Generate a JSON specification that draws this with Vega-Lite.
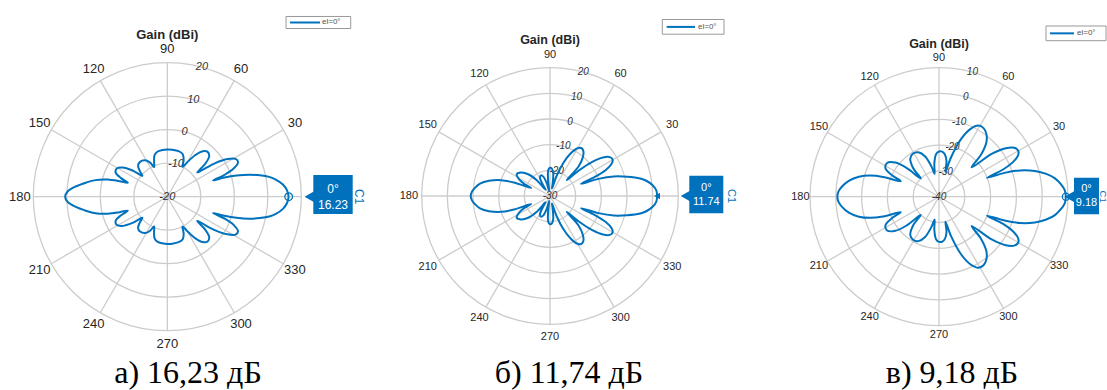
{
  "$schema": "https://vega.github.io/schema/vega-lite/v6.json",
  "padding": 0,
  "spacing": 0,
  "background": "white",
  "config": {
    "view": {"stroke": null},
    "font": "Liberation Sans"
  },
  "resolve": {"scale": {"x": "independent", "y": "independent", "size": "independent"}},
  "datasets": {
    "spokes": [
      {"ang": 0, "t": ""}, {"ang": 30, "t": "30"}, {"ang": 60, "t": "60"}, {"ang": 90, "t": "90"},
      {"ang": 120, "t": "120"}, {"ang": 150, "t": "150"}, {"ang": 180, "t": "180"}, {"ang": 210, "t": "210"},
      {"ang": 240, "t": "240"}, {"ang": 270, "t": "270"}, {"ang": 300, "t": "300"}, {"ang": 330, "t": "330"}
    ],
    "a": [
      {"ang": 0, "g": 16.23}, {"ang": 3, "g": 15.8}, {"ang": 6, "g": 14.7}, {"ang": 9, "g": 12.8}, {"ang": 11, "g": 11.0},
      {"ang": 13, "g": 8.4}, {"ang": 15, "g": 5.4}, {"ang": 17, "g": 1.6}, {"ang": 18.5, "g": -2}, {"ang": 19.5, "g": -5.5},
      {"ang": 21, "g": -1.5}, {"ang": 23, "g": 1.5}, {"ang": 26, "g": 3.5}, {"ang": 29, "g": 3.3}, {"ang": 32, "g": 1.2},
      {"ang": 35, "g": -2.5}, {"ang": 37.5, "g": -7}, {"ang": 39, "g": -8.5}, {"ang": 41, "g": -5}, {"ang": 44, "g": -2.6},
      {"ang": 48, "g": -2}, {"ang": 52, "g": -2.8}, {"ang": 56, "g": -5}, {"ang": 60, "g": -8.2}, {"ang": 63, "g": -10},
      {"ang": 66, "g": -8}, {"ang": 70, "g": -6.5}, {"ang": 76, "g": -6}, {"ang": 84, "g": -5.9}, {"ang": 90, "g": -5.9},
      {"ang": 96, "g": -6}, {"ang": 102, "g": -6.2}, {"ang": 107, "g": -7}, {"ang": 111, "g": -9}, {"ang": 114, "g": -10.3},
      {"ang": 117, "g": -8.5}, {"ang": 122, "g": -7.2}, {"ang": 128, "g": -6.8}, {"ang": 133, "g": -7.2}, {"ang": 137, "g": -8.8},
      {"ang": 140, "g": -10.3}, {"ang": 143, "g": -7}, {"ang": 147, "g": -4}, {"ang": 151, "g": -2.7}, {"ang": 155, "g": -3},
      {"ang": 158, "g": -5}, {"ang": 160.5, "g": -7.5}, {"ang": 162, "g": -5}, {"ang": 164, "g": -1.5}, {"ang": 167, "g": 2},
      {"ang": 170, "g": 4.5}, {"ang": 174, "g": 7.8}, {"ang": 177, "g": 9.8}, {"ang": 180, "g": 10.5},
      {"ang": 183, "g": 9.8}, {"ang": 186, "g": 7.8}, {"ang": 190, "g": 4.5}, {"ang": 193, "g": 2}, {"ang": 196, "g": -1.5},
      {"ang": 198, "g": -5}, {"ang": 199.5, "g": -7.5}, {"ang": 202, "g": -5}, {"ang": 205, "g": -3}, {"ang": 209, "g": -2.7},
      {"ang": 213, "g": -4}, {"ang": 217, "g": -7}, {"ang": 220, "g": -10.3}, {"ang": 223, "g": -8.8}, {"ang": 227, "g": -7.2},
      {"ang": 232, "g": -6.8}, {"ang": 238, "g": -7.2}, {"ang": 243, "g": -8.5}, {"ang": 246, "g": -10.3}, {"ang": 249, "g": -9},
      {"ang": 253, "g": -7}, {"ang": 258, "g": -6.2}, {"ang": 264, "g": -6}, {"ang": 270, "g": -5.9}, {"ang": 276, "g": -5.9},
      {"ang": 284, "g": -6}, {"ang": 290, "g": -6.5}, {"ang": 294, "g": -8}, {"ang": 297, "g": -10}, {"ang": 300, "g": -8.2},
      {"ang": 304, "g": -5}, {"ang": 308, "g": -2.8}, {"ang": 312, "g": -2}, {"ang": 316, "g": -2.6}, {"ang": 319, "g": -5},
      {"ang": 321, "g": -8.5}, {"ang": 322.5, "g": -7}, {"ang": 325, "g": -2.5}, {"ang": 328, "g": 1.2}, {"ang": 331, "g": 3.3},
      {"ang": 334, "g": 3.5}, {"ang": 337, "g": 1.5}, {"ang": 339, "g": -1.5}, {"ang": 340.5, "g": -5.5}, {"ang": 341.5, "g": -2},
      {"ang": 343, "g": 1.6}, {"ang": 345, "g": 5.4}, {"ang": 347, "g": 8.4}, {"ang": 349, "g": 11.0}, {"ang": 351, "g": 12.8},
      {"ang": 354, "g": 14.7}, {"ang": 357, "g": 15.8}, {"ang": 360, "g": 16.23}
    ],
    "b": [
      {"ang": 0, "g": 11.74}, {"ang": 3, "g": 11.5}, {"ang": 6, "g": 10.2}, {"ang": 9, "g": 8}, {"ang": 11, "g": 5.8},
      {"ang": 14, "g": 1}, {"ang": 17, "g": -4}, {"ang": 19.5, "g": -10}, {"ang": 21.5, "g": -17}, {"ang": 23, "g": -11},
      {"ang": 25, "g": -6}, {"ang": 27.5, "g": -3}, {"ang": 30, "g": -1.8}, {"ang": 33, "g": -2.2}, {"ang": 36, "g": -4.5},
      {"ang": 39, "g": -9}, {"ang": 41.5, "g": -15}, {"ang": 43.5, "g": -21}, {"ang": 46, "g": -14}, {"ang": 50, "g": -10},
      {"ang": 54, "g": -8}, {"ang": 57, "g": -7.7}, {"ang": 60, "g": -8.5}, {"ang": 64, "g": -11.5}, {"ang": 68, "g": -16},
      {"ang": 72, "g": -22}, {"ang": 75, "g": -27}, {"ang": 78, "g": -25}, {"ang": 82, "g": -21}, {"ang": 86, "g": -19.3},
      {"ang": 90, "g": -19}, {"ang": 94, "g": -20}, {"ang": 97, "g": -24}, {"ang": 100, "g": -28}, {"ang": 104, "g": -25},
      {"ang": 109, "g": -22}, {"ang": 114, "g": -21.2}, {"ang": 119, "g": -22}, {"ang": 123, "g": -25}, {"ang": 126, "g": -27},
      {"ang": 130, "g": -22}, {"ang": 135, "g": -18}, {"ang": 141, "g": -15.5}, {"ang": 147, "g": -14.5}, {"ang": 152, "g": -16.5},
      {"ang": 155, "g": -19}, {"ang": 157, "g": -22}, {"ang": 159.5, "g": -15}, {"ang": 162, "g": -10}, {"ang": 166, "g": -5.5},
      {"ang": 170, "g": -2.3}, {"ang": 174, "g": -0.5}, {"ang": 177, "g": 0.5}, {"ang": 180, "g": 0.9},
      {"ang": 183, "g": 0.5}, {"ang": 186, "g": -0.5}, {"ang": 190, "g": -2.3}, {"ang": 194, "g": -5.5}, {"ang": 198, "g": -10},
      {"ang": 200.5, "g": -15}, {"ang": 203, "g": -22}, {"ang": 205, "g": -19}, {"ang": 208, "g": -16.5}, {"ang": 213, "g": -14.5},
      {"ang": 219, "g": -15.5}, {"ang": 225, "g": -18}, {"ang": 230, "g": -22}, {"ang": 234, "g": -27}, {"ang": 237, "g": -25},
      {"ang": 241, "g": -22}, {"ang": 246, "g": -21.2}, {"ang": 251, "g": -22}, {"ang": 256, "g": -25}, {"ang": 260, "g": -28},
      {"ang": 263, "g": -24}, {"ang": 266, "g": -20}, {"ang": 270, "g": -19}, {"ang": 274, "g": -19.3}, {"ang": 278, "g": -21},
      {"ang": 282, "g": -25}, {"ang": 285, "g": -27}, {"ang": 288, "g": -22}, {"ang": 292, "g": -16}, {"ang": 296, "g": -11.5},
      {"ang": 300, "g": -8.5}, {"ang": 303, "g": -7.7}, {"ang": 306, "g": -8}, {"ang": 310, "g": -10}, {"ang": 314, "g": -14},
      {"ang": 316.5, "g": -21}, {"ang": 318.5, "g": -15}, {"ang": 321, "g": -9}, {"ang": 324, "g": -4.5}, {"ang": 327, "g": -2.2},
      {"ang": 330, "g": -1.8}, {"ang": 332.5, "g": -3}, {"ang": 335, "g": -6}, {"ang": 337, "g": -11}, {"ang": 338.5, "g": -17},
      {"ang": 340.5, "g": -10}, {"ang": 343, "g": -4}, {"ang": 346, "g": 1}, {"ang": 349, "g": 5.8}, {"ang": 351, "g": 8},
      {"ang": 354, "g": 10.2}, {"ang": 357, "g": 11.5}, {"ang": 360, "g": 11.74}
    ],
    "c": [
      {"ang": 0, "g": 9.18}, {"ang": 3, "g": 8.8}, {"ang": 6, "g": 7.4}, {"ang": 9, "g": 5.5}, {"ang": 12, "g": 2.5},
      {"ang": 15, "g": -1.5}, {"ang": 18, "g": -7}, {"ang": 20, "g": -13}, {"ang": 21.5, "g": -20}, {"ang": 23, "g": -13},
      {"ang": 25, "g": -8.5}, {"ang": 27.5, "g": -5.5}, {"ang": 30, "g": -4.5}, {"ang": 33, "g": -5.2}, {"ang": 36, "g": -8},
      {"ang": 39, "g": -13.5}, {"ang": 42, "g": -23}, {"ang": 45, "g": -17}, {"ang": 49, "g": -12}, {"ang": 53, "g": -9.5},
      {"ang": 57, "g": -8.3}, {"ang": 61, "g": -8.5}, {"ang": 65, "g": -11}, {"ang": 69, "g": -16}, {"ang": 73, "g": -24},
      {"ang": 75.5, "g": -30}, {"ang": 78, "g": -26}, {"ang": 82, "g": -23.5}, {"ang": 86, "g": -22.5}, {"ang": 90, "g": -22.5},
      {"ang": 94, "g": -23.5}, {"ang": 98, "g": -27}, {"ang": 101, "g": -31}, {"ang": 104, "g": -28}, {"ang": 109, "g": -23.5},
      {"ang": 115, "g": -21}, {"ang": 121, "g": -20.5}, {"ang": 127, "g": -21.5}, {"ang": 132, "g": -25}, {"ang": 135, "g": -30},
      {"ang": 138.5, "g": -23}, {"ang": 142, "g": -18.5}, {"ang": 147, "g": -16}, {"ang": 152, "g": -16.5}, {"ang": 155.5, "g": -20},
      {"ang": 158, "g": -24}, {"ang": 160.5, "g": -17}, {"ang": 163, "g": -12}, {"ang": 166, "g": -8}, {"ang": 170, "g": -4.5},
      {"ang": 174, "g": -2.2}, {"ang": 177, "g": -1}, {"ang": 180, "g": -0.6},
      {"ang": 183, "g": -1}, {"ang": 186, "g": -2.2}, {"ang": 190, "g": -4.5}, {"ang": 194, "g": -8}, {"ang": 197, "g": -12},
      {"ang": 199.5, "g": -17}, {"ang": 202, "g": -24}, {"ang": 204.5, "g": -20}, {"ang": 208, "g": -16.5}, {"ang": 213, "g": -16},
      {"ang": 218, "g": -18.5}, {"ang": 221.5, "g": -23}, {"ang": 225, "g": -30}, {"ang": 228, "g": -25}, {"ang": 233, "g": -21.5},
      {"ang": 239, "g": -20.5}, {"ang": 245, "g": -21}, {"ang": 251, "g": -23.5}, {"ang": 256, "g": -28}, {"ang": 259, "g": -31},
      {"ang": 262, "g": -27}, {"ang": 266, "g": -23.5}, {"ang": 270, "g": -22.5}, {"ang": 274, "g": -22.5}, {"ang": 278, "g": -23.5},
      {"ang": 282, "g": -26}, {"ang": 284.5, "g": -30}, {"ang": 287, "g": -24}, {"ang": 291, "g": -16}, {"ang": 295, "g": -11},
      {"ang": 299, "g": -8.5}, {"ang": 303, "g": -8.3}, {"ang": 307, "g": -9.5}, {"ang": 311, "g": -12}, {"ang": 315, "g": -17},
      {"ang": 318, "g": -23}, {"ang": 321, "g": -13.5}, {"ang": 324, "g": -8}, {"ang": 327, "g": -5.2}, {"ang": 330, "g": -4.5},
      {"ang": 332.5, "g": -5.5}, {"ang": 335, "g": -8.5}, {"ang": 337, "g": -13}, {"ang": 338.5, "g": -20}, {"ang": 340, "g": -13},
      {"ang": 342, "g": -7}, {"ang": 345, "g": -1.5}, {"ang": 348, "g": 2.5}, {"ang": 351, "g": 5.5}, {"ang": 354, "g": 7.4},
      {"ang": 357, "g": 8.8}, {"ang": 360, "g": 9.18}
    ]
  },
  "hconcat": [
    {
      "width": 370,
      "height": 390,
      "layer": [
        {
          "data": {"values": [{"g": -10}, {"g": 0}, {"g": 10}, {"g": 20}]},
          "transform": [
            {"calculate": "(datum.g + 20) / 40", "as": "r"},
            {"calculate": "0", "as": "o"}
          ],
          "mark": {"type": "point", "shape": "circle", "filled": false, "stroke": "#cccccc", "strokeWidth": 1.3, "opacity": 1},
          "encoding": {
            "x": {"field": "o", "type": "quantitative", "scale": {"domain": [-1.2485, 1.5127], "nice": false, "zero": false}, "axis": null},
            "y": {"field": "o", "type": "quantitative", "scale": {"domain": [-1.4425, 1.4679], "nice": false, "zero": false}, "axis": null},
            "size": {"field": "r", "type": "quantitative", "scale": {"type": "pow", "exponent": 2, "domain": [0, 1], "range": [0, 71824]}, "legend": null}
          }
        },
        {
          "data": {"name": "spokes"},
          "transform": [
            {"calculate": "cos(datum.ang * PI / 180)", "as": "cx"},
            {"calculate": "sin(datum.ang * PI / 180)", "as": "cy"},
            {"calculate": "0", "as": "o"}
          ],
          "mark": {"type": "rule", "stroke": "#cccccc", "strokeWidth": 1.3},
          "encoding": {
            "x": {"field": "o", "type": "quantitative", "axis": null},
            "y": {"field": "o", "type": "quantitative", "axis": null},
            "x2": {"field": "cx"},
            "y2": {"field": "cy"}
          }
        },
        {
          "data": {"name": "spokes"},
          "transform": [
            {"filter": "datum.t != ''"},
            {"calculate": "1.1 * cos(datum.ang * PI / 180)", "as": "lx"},
            {"calculate": "1.1 * sin(datum.ang * PI / 180)", "as": "ly"}
          ],
          "mark": {"type": "text", "fontSize": 13, "color": "#262626", "align": "center", "baseline": "middle"},
          "encoding": {
            "x": {"field": "lx", "type": "quantitative", "axis": null},
            "y": {"field": "ly", "type": "quantitative", "axis": null},
            "text": {"field": "t", "type": "nominal"}
          }
        },
        {
          "data": {"values": [{"g": -20}, {"g": -10}, {"g": 0}, {"g": 10}, {"g": 20}]},
          "transform": [
            {"calculate": "(datum.g + 20) / 40", "as": "r"},
            {"calculate": "datum.r * 0.2588", "as": "lx"},
            {"calculate": "datum.r * 0.9659", "as": "ly"}
          ],
          "mark": {"type": "text", "fontSize": 11, "fontStyle": "italic", "color": "#333333", "align": "center", "baseline": "middle"},
          "encoding": {
            "x": {"field": "lx", "type": "quantitative", "axis": null},
            "y": {"field": "ly", "type": "quantitative", "axis": null},
            "text": {"field": "g", "type": "nominal"}
          }
        },
        {
          "data": {"name": "a"},
          "transform": [
            {"calculate": "(datum.g + 20) / 40", "as": "r"},
            {"calculate": "datum.r * cos(datum.ang * PI / 180)", "as": "px"},
            {"calculate": "datum.r * sin(datum.ang * PI / 180)", "as": "py"}
          ],
          "mark": {"type": "line", "color": "#0072BD", "strokeWidth": 2, "interpolate": "catmull-rom"},
          "encoding": {
            "x": {"field": "px", "type": "quantitative", "axis": null},
            "y": {"field": "py", "type": "quantitative", "axis": null},
            "order": {"field": "ang", "type": "quantitative"}
          }
        },
        {
          "data": {"name": "a"},
          "transform": [
            {"filter": "datum.ang == 0"},
            {"calculate": "(datum.g + 20) / 40", "as": "r"},
            {"calculate": "0", "as": "o"}
          ],
          "mark": {"type": "point", "shape": "circle", "filled": false, "stroke": "#0072BD", "strokeWidth": 1.2, "size": 60, "opacity": 1},
          "encoding": {
            "x": {"field": "r", "type": "quantitative", "axis": null},
            "y": {"field": "o", "type": "quantitative", "axis": null}
          }
        },
        {
          "data": {"values": [{}]},
          "mark": {"type": "text", "text": "Gain (dBi)", "fontSize": 13, "fontWeight": "bold", "color": "#262626", "align": "center", "baseline": "middle"},
          "encoding": {"x": {"datum": 0, "type": "quantitative", "axis": null}, "y": {"datum": 1.2067, "type": "quantitative", "axis": null}}
        },
        {
          "data": {"values": [{}]},
          "mark": {"type": "rect", "fill": "white", "stroke": "#999999", "strokeWidth": 1},
          "encoding": {
            "x": {"datum": 0.886, "type": "quantitative", "axis": null}, "x2": {"datum": 1.3687},
            "y": {"datum": 1.345, "type": "quantitative", "axis": null}, "y2": {"datum": 1.255}
          }
        },
        {
          "data": {"values": [{}]},
          "mark": {"type": "rule", "stroke": "#0072BD", "strokeWidth": 2},
          "encoding": {
            "x": {"datum": 0.9157, "type": "quantitative", "axis": null}, "x2": {"datum": 1.1396},
            "y": {"datum": 1.3, "type": "quantitative", "axis": null}
          }
        },
        {
          "data": {"values": [{}]},
          "mark": {"type": "text", "text": "el=0°", "fontSize": 8, "color": "#555555", "align": "left", "baseline": "middle"},
          "encoding": {"x": {"datum": 1.1545, "type": "quantitative", "axis": null}, "y": {"datum": 1.3, "type": "quantitative", "axis": null}}
        },
        {
          "data": {"values": [{}]},
          "mark": {"type": "point", "shape": "triangle-left", "filled": true, "color": "#0072BD", "size": 160, "opacity": 1},
          "encoding": {"x": {"datum": 1.065, "type": "quantitative", "axis": null}, "y": {"datum": 0, "type": "quantitative", "axis": null}}
        },
        {
          "data": {"values": [{}]},
          "mark": {"type": "rect", "fill": "#0072BD"},
          "encoding": {
            "x": {"datum": 1.0896, "type": "quantitative", "axis": null}, "x2": {"datum": 1.3836},
            "y": {"datum": 0.162, "type": "quantitative", "axis": null}, "y2": {"datum": -0.13}
          }
        },
        {
          "data": {"values": [{}]},
          "mark": {"type": "text", "text": "0°", "fontSize": 12, "color": "white", "align": "center", "baseline": "middle"},
          "encoding": {"x": {"datum": 1.2366, "type": "quantitative", "axis": null}, "y": {"datum": 0.06, "type": "quantitative", "axis": null}}
        },
        {
          "data": {"name": "a"},
          "transform": [{"filter": "datum.ang == 0"}],
          "mark": {"type": "text", "fontSize": 12, "color": "white", "align": "center", "baseline": "middle"},
          "encoding": {
            "x": {"datum": 1.2366, "type": "quantitative", "axis": null},
            "y": {"datum": -0.065, "type": "quantitative", "axis": null},
            "text": {"field": "g", "type": "nominal"}
          }
        },
        {
          "data": {"values": [{}]},
          "mark": {"type": "text", "text": "C1", "fontSize": 12, "color": "#0072BD", "angle": 90, "align": "center", "baseline": "middle"},
          "encoding": {"x": {"datum": 1.4306, "type": "quantitative", "axis": null}, "y": {"datum": 0, "type": "quantitative", "axis": null}}
        },
        {
          "data": {"values": [{}]},
          "mark": {"type": "text", "text": "а) 16,23 дБ", "font": "Liberation Serif", "fontSize": 32, "color": "black", "align": "center", "baseline": "alphabetic"},
          "encoding": {"x": {"datum": 0.1545, "type": "quantitative", "axis": null}, "y": {"datum": -1.3903, "type": "quantitative", "axis": null}}
        }
      ]
    },
    {
      "width": 370,
      "height": 390,
      "layer": [
        {
          "data": {"values": [{"g": -20}, {"g": -10}, {"g": 0}, {"g": 10}, {"g": 20}]},
          "transform": [
            {"calculate": "(datum.g + 30) / 50", "as": "r"},
            {"calculate": "0", "as": "o"}
          ],
          "mark": {"type": "point", "shape": "circle", "filled": false, "stroke": "#cccccc", "strokeWidth": 1.3, "opacity": 1},
          "encoding": {
            "x": {"field": "o", "type": "quantitative", "scale": {"domain": [-1.403, 1.4809], "nice": false, "zero": false}, "axis": null},
            "y": {"field": "o", "type": "quantitative", "scale": {"domain": [-1.5121, 1.5277], "nice": false, "zero": false}, "axis": null},
            "size": {"field": "r", "type": "quantitative", "scale": {"type": "pow", "exponent": 2, "domain": [0, 1], "range": [0, 65843]}, "legend": null}
          }
        },
        {
          "data": {"name": "spokes"},
          "transform": [
            {"calculate": "cos(datum.ang * PI / 180)", "as": "cx"},
            {"calculate": "sin(datum.ang * PI / 180)", "as": "cy"},
            {"calculate": "0", "as": "o"}
          ],
          "mark": {"type": "rule", "stroke": "#cccccc", "strokeWidth": 1.3},
          "encoding": {
            "x": {"field": "o", "type": "quantitative", "axis": null},
            "y": {"field": "o", "type": "quantitative", "axis": null},
            "x2": {"field": "cx"},
            "y2": {"field": "cy"}
          }
        },
        {
          "data": {"name": "spokes"},
          "transform": [
            {"filter": "datum.t != ''"},
            {"calculate": "1.1 * cos(datum.ang * PI / 180)", "as": "lx"},
            {"calculate": "1.1 * sin(datum.ang * PI / 180)", "as": "ly"}
          ],
          "mark": {"type": "text", "fontSize": 11, "color": "#262626", "align": "center", "baseline": "middle"},
          "encoding": {
            "x": {"field": "lx", "type": "quantitative", "axis": null},
            "y": {"field": "ly", "type": "quantitative", "axis": null},
            "text": {"field": "t", "type": "nominal"}
          }
        },
        {
          "data": {"values": [{"g": -30}, {"g": -20}, {"g": -10}, {"g": 0}, {"g": 10}, {"g": 20}]},
          "transform": [
            {"calculate": "(datum.g + 30) / 50", "as": "r"},
            {"calculate": "datum.r * 0.2588", "as": "lx"},
            {"calculate": "datum.r * 0.9659", "as": "ly"}
          ],
          "mark": {"type": "text", "fontSize": 10, "fontStyle": "italic", "color": "#333333", "align": "center", "baseline": "middle"},
          "encoding": {
            "x": {"field": "lx", "type": "quantitative", "axis": null},
            "y": {"field": "ly", "type": "quantitative", "axis": null},
            "text": {"field": "g", "type": "nominal"}
          }
        },
        {
          "data": {"name": "b"},
          "transform": [
            {"calculate": "(datum.g + 30) / 50", "as": "r"},
            {"calculate": "datum.r * cos(datum.ang * PI / 180)", "as": "px"},
            {"calculate": "datum.r * sin(datum.ang * PI / 180)", "as": "py"}
          ],
          "mark": {"type": "line", "color": "#0072BD", "strokeWidth": 2, "interpolate": "catmull-rom"},
          "encoding": {
            "x": {"field": "px", "type": "quantitative", "axis": null},
            "y": {"field": "py", "type": "quantitative", "axis": null},
            "order": {"field": "ang", "type": "quantitative"}
          }
        },
        {
          "data": {"name": "b"},
          "transform": [
            {"filter": "datum.ang == 0"},
            {"calculate": "(datum.g + 30) / 50", "as": "r"},
            {"calculate": "0", "as": "o"}
          ],
          "mark": {"type": "point", "shape": "triangle-left", "filled": true, "color": "#0072BD", "size": 45, "opacity": 1},
          "encoding": {
            "x": {"field": "r", "type": "quantitative", "axis": null},
            "y": {"field": "o", "type": "quantitative", "axis": null}
          }
        },
        {
          "data": {"values": [{}]},
          "mark": {"type": "text", "text": "Gain (dBi)", "fontSize": 12.5, "fontWeight": "bold", "color": "#262626", "align": "center", "baseline": "middle"},
          "encoding": {"x": {"datum": 0, "type": "quantitative", "axis": null}, "y": {"datum": 1.2159, "type": "quantitative", "axis": null}}
        },
        {
          "data": {"values": [{}]},
          "mark": {"type": "rect", "fill": "white", "stroke": "#999999", "strokeWidth": 1},
          "encoding": {
            "x": {"datum": 0.8753, "type": "quantitative", "axis": null}, "x2": {"datum": 1.3562},
            "y": {"datum": 1.3757, "type": "quantitative", "axis": null}, "y2": {"datum": 1.2611}
          }
        },
        {
          "data": {"values": [{}]},
          "mark": {"type": "rule", "stroke": "#0072BD", "strokeWidth": 2},
          "encoding": {
            "x": {"datum": 0.9096, "type": "quantitative", "axis": null}, "x2": {"datum": 1.1302},
            "y": {"datum": 1.318, "type": "quantitative", "axis": null}
          }
        },
        {
          "data": {"values": [{}]},
          "mark": {"type": "text", "text": "el=0°", "fontSize": 8, "color": "#555555", "align": "left", "baseline": "middle"},
          "encoding": {"x": {"datum": 1.1535, "type": "quantitative", "axis": null}, "y": {"datum": 1.318, "type": "quantitative", "axis": null}}
        },
        {
          "data": {"values": [{}]},
          "mark": {"type": "point", "shape": "triangle-left", "filled": true, "color": "#0072BD", "size": 150, "opacity": 1},
          "encoding": {"x": {"datum": 1.06, "type": "quantitative", "axis": null}, "y": {"datum": 0, "type": "quantitative", "axis": null}}
        },
        {
          "data": {"values": [{}]},
          "mark": {"type": "rect", "fill": "#0072BD"},
          "encoding": {
            "x": {"datum": 1.0857, "type": "quantitative", "axis": null}, "x2": {"datum": 1.3507},
            "y": {"datum": 0.1582, "type": "quantitative", "axis": null}, "y2": {"datum": -0.1348}
          }
        },
        {
          "data": {"values": [{}]},
          "mark": {"type": "text", "text": "0°", "fontSize": 11, "color": "white", "align": "center", "baseline": "middle"},
          "encoding": {"x": {"datum": 1.2182, "type": "quantitative", "axis": null}, "y": {"datum": 0.06, "type": "quantitative", "axis": null}}
        },
        {
          "data": {"name": "b"},
          "transform": [{"filter": "datum.ang == 0"}],
          "mark": {"type": "text", "fontSize": 11, "color": "white", "align": "center", "baseline": "middle"},
          "encoding": {
            "x": {"datum": 1.2182, "type": "quantitative", "axis": null},
            "y": {"datum": -0.049, "type": "quantitative", "axis": null},
            "text": {"field": "g", "type": "nominal"}
          }
        },
        {
          "data": {"values": [{}]},
          "mark": {"type": "text", "text": "C1", "fontSize": 11, "color": "#0072BD", "angle": 90, "align": "center", "baseline": "middle"},
          "encoding": {"x": {"datum": 1.4108, "type": "quantitative", "axis": null}, "y": {"datum": 0, "type": "quantitative", "axis": null}}
        },
        {
          "data": {"values": [{}]},
          "mark": {"type": "text", "text": "б) 11,74 дБ", "font": "Liberation Serif", "fontSize": 32, "color": "black", "align": "center", "baseline": "alphabetic"},
          "encoding": {"x": {"datum": 0.148, "type": "quantitative", "axis": null}, "y": {"datum": -1.4575, "type": "quantitative", "axis": null}}
        }
      ]
    },
    {
      "width": 367,
      "height": 390,
      "layer": [
        {
          "data": {"values": [{"g": -30}, {"g": -20}, {"g": -10}, {"g": 0}, {"g": 10}]},
          "transform": [
            {"calculate": "(datum.g + 40) / 50", "as": "r"},
            {"calculate": "0", "as": "o"}
          ],
          "mark": {"type": "point", "shape": "circle", "filled": false, "stroke": "#cccccc", "strokeWidth": 1.3, "opacity": 1},
          "encoding": {
            "x": {"field": "o", "type": "quantitative", "scale": {"domain": [-1.5426, 1.3023], "nice": false, "zero": false}, "axis": null},
            "y": {"field": "o", "type": "quantitative", "scale": {"domain": [-1.4984, 1.5248], "nice": false, "zero": false}, "axis": null},
            "size": {"field": "r", "type": "quantitative", "scale": {"type": "pow", "exponent": 2, "domain": [0, 1], "range": [0, 66564]}, "legend": null}
          }
        },
        {
          "data": {"name": "spokes"},
          "transform": [
            {"calculate": "cos(datum.ang * PI / 180)", "as": "cx"},
            {"calculate": "sin(datum.ang * PI / 180)", "as": "cy"},
            {"calculate": "0", "as": "o"}
          ],
          "mark": {"type": "rule", "stroke": "#cccccc", "strokeWidth": 1.3},
          "encoding": {
            "x": {"field": "o", "type": "quantitative", "axis": null},
            "y": {"field": "o", "type": "quantitative", "axis": null},
            "x2": {"field": "cx"},
            "y2": {"field": "cy"}
          }
        },
        {
          "data": {"name": "spokes"},
          "transform": [
            {"filter": "datum.t != ''"},
            {"calculate": "1.075 * cos(datum.ang * PI / 180)", "as": "lx"},
            {"calculate": "1.075 * sin(datum.ang * PI / 180)", "as": "ly"}
          ],
          "mark": {"type": "text", "fontSize": 11, "color": "#262626", "align": "center", "baseline": "middle"},
          "encoding": {
            "x": {"field": "lx", "type": "quantitative", "axis": null},
            "y": {"field": "ly", "type": "quantitative", "axis": null},
            "text": {"field": "t", "type": "nominal"}
          }
        },
        {
          "data": {"values": [{"g": -40}, {"g": -30}, {"g": -20}, {"g": -10}, {"g": 0}, {"g": 10}]},
          "transform": [
            {"calculate": "(datum.g + 40) / 50", "as": "r"},
            {"calculate": "datum.r * 0.2588", "as": "lx"},
            {"calculate": "datum.r * 0.9659", "as": "ly"}
          ],
          "mark": {"type": "text", "fontSize": 10, "fontStyle": "italic", "color": "#333333", "align": "center", "baseline": "middle"},
          "encoding": {
            "x": {"field": "lx", "type": "quantitative", "axis": null},
            "y": {"field": "ly", "type": "quantitative", "axis": null},
            "text": {"field": "g", "type": "nominal"}
          }
        },
        {
          "data": {"name": "c"},
          "transform": [
            {"calculate": "(datum.g + 40) / 50", "as": "r"},
            {"calculate": "datum.r * cos(datum.ang * PI / 180)", "as": "px"},
            {"calculate": "datum.r * sin(datum.ang * PI / 180)", "as": "py"}
          ],
          "mark": {"type": "line", "color": "#0072BD", "strokeWidth": 2, "interpolate": "catmull-rom"},
          "encoding": {
            "x": {"field": "px", "type": "quantitative", "axis": null},
            "y": {"field": "py", "type": "quantitative", "axis": null},
            "order": {"field": "ang", "type": "quantitative"}
          }
        },
        {
          "data": {"name": "c"},
          "transform": [
            {"filter": "datum.ang == 0"},
            {"calculate": "(datum.g + 40) / 50", "as": "r"},
            {"calculate": "0", "as": "o"}
          ],
          "mark": {"type": "point", "shape": "circle", "filled": false, "stroke": "#0072BD", "strokeWidth": 1.2, "size": 50, "opacity": 1},
          "encoding": {
            "x": {"field": "r", "type": "quantitative", "axis": null},
            "y": {"field": "o", "type": "quantitative", "axis": null}
          }
        },
        {
          "data": {"values": [{}]},
          "mark": {"type": "text", "text": "Gain (dBi)", "fontSize": 12.5, "fontWeight": "bold", "color": "#262626", "align": "center", "baseline": "middle"},
          "encoding": {"x": {"datum": 0, "type": "quantitative", "axis": null}, "y": {"datum": 1.1837, "type": "quantitative", "axis": null}}
        },
        {
          "data": {"values": [{}]},
          "mark": {"type": "rect", "fill": "white", "stroke": "#999999", "strokeWidth": 1},
          "encoding": {
            "x": {"datum": 0.8295, "type": "quantitative", "axis": null}, "x2": {"datum": 1.2946},
            "y": {"datum": 1.3233, "type": "quantitative", "axis": null}, "y2": {"datum": 1.2093}
          }
        },
        {
          "data": {"values": [{}]},
          "mark": {"type": "rule", "stroke": "#0072BD", "strokeWidth": 2},
          "encoding": {
            "x": {"datum": 0.8605, "type": "quantitative", "axis": null}, "x2": {"datum": 1.0465},
            "y": {"datum": 1.2663, "type": "quantitative", "axis": null}
          }
        },
        {
          "data": {"values": [{}]},
          "mark": {"type": "text", "text": "el=0°", "fontSize": 8, "color": "#555555", "align": "left", "baseline": "middle"},
          "encoding": {"x": {"datum": 1.0698, "type": "quantitative", "axis": null}, "y": {"datum": 1.2663, "type": "quantitative", "axis": null}}
        },
        {
          "data": {"values": [{}]},
          "mark": {"type": "point", "shape": "triangle-left", "filled": true, "color": "#0072BD", "size": 150, "opacity": 1},
          "encoding": {"x": {"datum": 1.0155, "type": "quantitative", "axis": null}, "y": {"datum": 0, "type": "quantitative", "axis": null}}
        },
        {
          "data": {"values": [{}]},
          "mark": {"type": "rect", "fill": "#0072BD"},
          "encoding": {
            "x": {"datum": 1.0465, "type": "quantitative", "axis": null}, "x2": {"datum": 1.2403},
            "y": {"datum": 0.1473, "type": "quantitative", "axis": null}, "y2": {"datum": -0.1364}
          }
        },
        {
          "data": {"values": [{}]},
          "mark": {"type": "text", "text": "0°", "fontSize": 11, "color": "white", "align": "center", "baseline": "middle"},
          "encoding": {"x": {"datum": 1.1434, "type": "quantitative", "axis": null}, "y": {"datum": 0.0574, "type": "quantitative", "axis": null}}
        },
        {
          "data": {"name": "c"},
          "transform": [{"filter": "datum.ang == 0"}],
          "mark": {"type": "text", "fontSize": 11, "color": "white", "align": "center", "baseline": "middle"},
          "encoding": {
            "x": {"datum": 1.1434, "type": "quantitative", "axis": null},
            "y": {"datum": -0.0512, "type": "quantitative", "axis": null},
            "text": {"field": "g", "type": "nominal"}
          }
        },
        {
          "data": {"values": [{}]},
          "mark": {"type": "text", "text": "C1", "fontSize": 9.5, "color": "#0072BD", "angle": 90, "align": "center", "baseline": "middle"},
          "encoding": {"x": {"datum": 1.2713, "type": "quantitative", "axis": null}, "y": {"datum": 0, "type": "quantitative", "axis": null}}
        },
        {
          "data": {"values": [{}]},
          "mark": {"type": "text", "text": "в) 9,18 дБ", "font": "Liberation Serif", "fontSize": 32, "color": "black", "align": "center", "baseline": "alphabetic"},
          "encoding": {"x": {"datum": 0.1008, "type": "quantitative", "axis": null}, "y": {"datum": -1.4442, "type": "quantitative", "axis": null}}
        }
      ]
    }
  ]
}
